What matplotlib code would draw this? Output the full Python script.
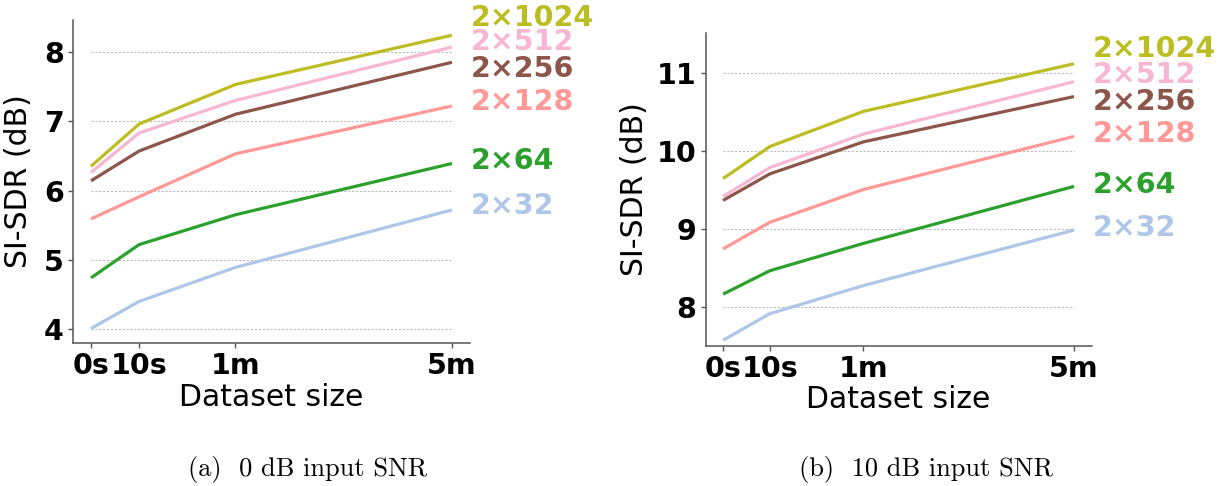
import matplotlib
matplotlib.use("Agg")
import matplotlib.pyplot as plt

# Dataset sizes along the x axis and where each one sits on the axis
sizes = ["0s", "10s", "1m", "5m"]
size_pos = [0, 2, 6, 15]

# Model widths (one line per width) and their colours
widths = ["2×32", "2×64", "2×128", "2×256", "2×512", "2×1024"]
colors = ["#aec7e8", "#2ca02c", "#ff9896", "#8c564b", "#f7b6d2", "#bcbd22"]

# SI-SDR (dB) at 0 dB input SNR
sdr_0db = {
    "2×32":   [4.01, 4.40, 4.89, 5.72],
    "2×64":   [4.74, 5.22, 5.65, 6.39],
    "2×128":  [5.59, 5.91, 6.53, 7.22],
    "2×256":  [6.14, 6.57, 7.10, 7.85],
    "2×512":  [6.26, 6.83, 7.30, 8.07],
    "2×1024": [6.35, 6.96, 7.53, 8.24],
}
# SI-SDR (dB) at 10 dB input SNR
sdr_10db = {
    "2×32":   [7.58, 7.92, 8.28, 8.99],
    "2×64":   [8.17, 8.47, 8.82, 9.55],
    "2×128":  [8.75, 9.09, 9.51, 10.19],
    "2×256":  [9.37, 9.71, 10.12, 10.70],
    "2×512":  [9.42, 9.79, 10.22, 10.89],
    "2×1024": [9.65, 10.06, 10.51, 11.12],
}

# Vertical placement of the end-of-line labels (data units)
label_y_0db = [5.77, 6.43, 7.28, 7.75, 8.14, 8.49]
label_y_10db = [9.02, 9.57, 10.22, 10.63, 10.97, 11.31]

yticks_0db = [4, 5, 6, 7, 8]
yticks_10db = [8, 9, 10, 11]

captions = ["(a)  0 dB input SNR", "(b)  10 dB input SNR"]

fig = plt.figure(figsize=(12.2, 4.86), dpi=100)
ax_a = fig.add_axes([0.0598, 0.2942, 0.3254, 0.6646])
ax_b = fig.add_axes([0.5783, 0.2887, 0.3164, 0.6428])

panels = [
    (ax_a, sdr_0db, label_y_0db, yticks_0db, (3.80, 8.46), -0.100),
    (ax_b, sdr_10db, label_y_10db, yticks_10db, (7.51, 11.51), -0.147),
]

spine_col = "#555555"
for ax, data, lab_y, yt, ylim, ylab_x in panels:
    ax.hlines(yt, size_pos[0], size_pos[-1], colors="#bbbbbb",
              linestyles=(0, (2, 1.5)), linewidth=0.8, zorder=1)
    for w, c, ly in zip(widths, colors, lab_y):
        vals = data[w]
        ax.plot(size_pos, vals, color=c, linewidth=2.3, zorder=3,
                solid_capstyle="butt")
        ax.annotate(w, xy=(size_pos[-1], ly), xytext=(13.5, 0),
                    textcoords="offset points", color=c, fontsize=20.5,
                    fontweight="bold", va="center", ha="left",
                    annotation_clip=False)
    ax.set_ylim(*ylim)
    ax.set_yticks(yt)
    ax.set_yticklabels([str(v) for v in yt])
    ax.set_xticks(size_pos)
    ax.set_xticklabels(sizes)
    ax.margins(x=0.05)
    for side in ("top", "right"):
        ax.spines[side].set_visible(False)
    for side in ("left", "bottom"):
        ax.spines[side].set_color(spine_col)
        ax.spines[side].set_linewidth(1.1)
    ax.tick_params(axis="both", colors=spine_col, length=3.5, width=1.0,
                   labelcolor="black", labelsize=20.5, pad=3)
    for t in ax.get_xticklabels() + ax.get_yticklabels():
        t.set_fontweight("bold")
    ax.set_ylabel("SI-SDR (dB)", fontsize=21.5)
    ax.yaxis.set_label_coords(ylab_x, 0.5)
    ax.set_xlabel("Dataset size", fontsize=21.5, labelpad=2)

fig.text(308 / 1220, 1 - 469 / 486, captions[0], family="cmr10",
         fontsize=19, ha="center", va="center")
fig.text(926 / 1220, 1 - 469 / 486, captions[1], family="cmr10",
         fontsize=19, ha="center", va="center")

fig.savefig("out.png", dpi=100)
